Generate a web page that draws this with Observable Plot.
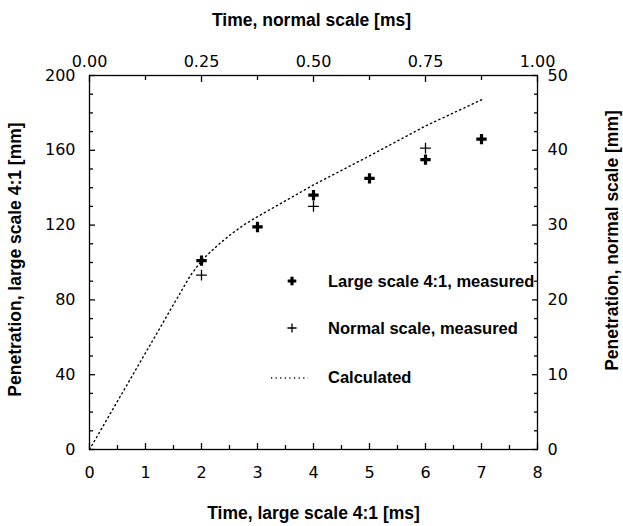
<!DOCTYPE html>
<html><head><meta charset="utf-8">
<script src="https://cdn.jsdelivr.net/npm/d3@7"></script>
<script src="https://cdn.jsdelivr.net/npm/@observablehq/plot@0.6"></script>
<style>
html,body{margin:0;padding:0;background:#fff;}
#wrap{position:relative;width:623px;height:526px;overflow:hidden;background:#fff;}
.leg{position:absolute;font-family:"Liberation Sans",Arial,sans-serif;font-weight:bold;font-size:16.5px;line-height:20px;white-space:nowrap;color:#000;}
.legsym{position:absolute;overflow:visible;}
</style></head><body><div id="wrap"></div>
<script>
// ---- data (large scale 4:1 units unless noted) ----
const largeTime = [2, 3, 4, 5, 6, 7];                 // ms, large scale
const largePen  = [101, 119, 136, 145, 155, 166];     // mm, large scale
const normalTime = [0.25, 0.5, 0.75];                 // ms, normal scale
const normalPen  = [23.3, 32.5, 40.3];                // mm, normal scale
const calcTime = [0, 1.8, 1.95, 2.1, 2.3, 2.5, 2.75, 3, 3.5, 4, 5, 6, 7];                 // ms, large scale
const calcPen  = [0, 93, 99, 104, 109.5, 114.5, 120, 124.5, 133, 141.5, 157, 173, 187];   // mm, large scale

// tick values
const largeTimeTicks = [0, 1, 2, 3, 4, 5, 6, 7, 8];
const largeTimeMinor = [0.5, 1.5, 2.5, 3.5, 4.5, 5.5, 6.5, 7.5];
const normalTimeTicks = [0, 0.25, 0.5, 0.75, 1];
const normalTimeMinor = [0.125, 0.375, 0.625, 0.875];
const largePenTicks = [0, 40, 80, 120, 160, 200];
const largePenMinor = [10, 20, 30, 50, 60, 70, 90, 100, 110, 130, 140, 150, 170, 180, 190];
const normalPenTicks = [0, 10, 20, 30, 40, 50];
const normalPenMinor = [2.5, 5, 7.5, 12.5, 15, 17.5, 22.5, 25, 27.5, 32.5, 35, 37.5, 42.5, 45, 47.5];

const legendLabels = ["Large scale 4:1, measured", "Normal scale, measured", "Calculated"];
const titles = {
  top: "Time, normal scale [ms]",
  bottom: "Time, large scale 4:1 [ms]",
  left: "Penetration, large scale 4:1 [mm]",
  right: "Penetration, normal scale [mm]"
};

// unit conversion between the two scales
const TIME_RATIO = 8;  // large-scale ms per normal-scale ms
const PEN_RATIO = 4;   // 4:1

const large = largeTime.map((t, i) => ({t, p: largePen[i]}));
const normal = normalTime.map((t, i) => ({t: t * TIME_RATIO, p: normalPen[i] * PEN_RATIO}));
const calc = calcTime.map((t, i) => ({t, p: calcPen[i]}));

const plusSymbol = {
  draw(ctx, size) {
    const h = Math.sqrt(size / Math.PI);
    ctx.moveTo(-h, 0); ctx.lineTo(h, 0);
    ctx.moveTo(0, -h); ctx.lineTo(0, h);
  }
};

const titleFont = {fontFamily: "Liberation Sans, Arial, sans-serif", fontWeight: "bold", fontSize: 17.5, fill: "black", textAnchor: "middle", lineAnchor: "middle"};
const sw = 1.3;

const chart = Plot.plot({
  width: 623, height: 526,
  marginTop: 75, marginBottom: 77, marginLeft: 89, marginRight: 86,
  style: {fontFamily: "DejaVu Sans, sans-serif", fontSize: "16px", color: "black", background: "white", overflow: "visible"},
  x: {domain: [0, 8]},
  y: {domain: [0, 200]},
  marks: [
    // inward ticks
    Plot.axisX({anchor: "bottom", ticks: largeTimeTicks, tickSize: -6, fill: "none", label: null, strokeWidth: sw}),
    Plot.axisX({anchor: "bottom", ticks: largeTimeMinor, tickSize: -4, fill: "none", label: null, strokeWidth: sw}),
    Plot.axisX({anchor: "top", ticks: normalTimeTicks.map(d => d * TIME_RATIO), tickSize: -6, fill: "none", label: null, strokeWidth: sw}),
    Plot.axisX({anchor: "top", ticks: normalTimeMinor.map(d => d * TIME_RATIO), tickSize: -4, fill: "none", label: null, strokeWidth: sw}),
    Plot.axisY({anchor: "left", ticks: largePenTicks, tickSize: -6, fill: "none", label: null, strokeWidth: sw}),
    Plot.axisY({anchor: "left", ticks: largePenMinor, tickSize: -4, fill: "none", label: null, strokeWidth: sw}),
    Plot.axisY({anchor: "right", ticks: normalPenTicks.map(d => d * PEN_RATIO), tickSize: -6, fill: "none", label: null, strokeWidth: sw}),
    Plot.axisY({anchor: "right", ticks: normalPenMinor.map(d => d * PEN_RATIO), tickSize: -4, fill: "none", label: null, strokeWidth: sw}),
    // tick labels
    Plot.axisX({anchor: "bottom", ticks: largeTimeTicks, tickSize: 0, tickPadding: 17, tickFormat: d => String(d), label: null}),
    Plot.axisX({anchor: "top", ticks: normalTimeTicks.map(d => d * TIME_RATIO), tickSize: 0, tickPadding: 9, tickFormat: d => (d / TIME_RATIO).toFixed(2), label: null}),
    Plot.axisY({anchor: "left", ticks: largePenTicks, tickSize: 0, tickPadding: 14, tickFormat: d => String(d), label: null}),
    Plot.axisY({anchor: "right", ticks: normalPenTicks.map(d => d * PEN_RATIO), tickSize: 0, tickPadding: 10, tickFormat: d => String(d / PEN_RATIO), label: null}),
    Plot.frame({stroke: "black", strokeWidth: sw}),
    // data
    Plot.line(calc, {x: "t", y: "p", stroke: "black", strokeWidth: 1.4, strokeDasharray: "1.2 3.4"}),
    Plot.dot(normal, {x: "t", y: "p", symbol: plusSymbol, r: 5.4, fill: "none", stroke: "black", strokeWidth: 1.3}),
    Plot.dot(large, {x: "t", y: "p", symbol: plusSymbol, r: 5.2, fill: "none", stroke: "black", strokeWidth: 3.2}),
    // titles
    Plot.text([titles.top], {text: d => d, frameAnchor: "top", dx: -2, dy: -55, ...titleFont}),
    Plot.text([titles.bottom], {text: d => d, frameAnchor: "bottom", dy: 64, ...titleFont}),
    Plot.text([titles.left], {text: d => d, frameAnchor: "left", rotate: -90, dx: -74, dy: -3, ...titleFont}),
    Plot.text([titles.right], {text: d => d, frameAnchor: "right", rotate: -90, dx: 75, dy: -22, ...titleFont})
  ]
});

const wrap = document.getElementById("wrap");
wrap.appendChild(chart);

// legend overlay (inside the plot area)
const legendRows = [
  {label: legendLabels[0], top: 271, sym: "bold"},
  {label: legendLabels[1], top: 318, sym: "thin"},
  {label: legendLabels[2], top: 367, sym: "dots"}
];
const ns = "http://www.w3.org/2000/svg";
legendRows.forEach(r => {
  const t = document.createElement("div");
  t.className = "leg";
  t.style.left = "328px";
  t.style.top = r.top + "px";
  t.textContent = r.label;
  wrap.appendChild(t);
  const s = document.createElementNS(ns, "svg");
  s.setAttribute("class", "legsym");
  if (r.sym === "dots") {
    s.setAttribute("width", 40); s.setAttribute("height", 10);
    s.style.left = "270px"; s.style.top = (r.top + 6) + "px";
    const l = document.createElementNS(ns, "line");
    l.setAttribute("x1", 1); l.setAttribute("x2", 38); l.setAttribute("y1", 5); l.setAttribute("y2", 5);
    l.setAttribute("stroke", "black"); l.setAttribute("stroke-width", 1.4); l.setAttribute("stroke-dasharray", "1.2 3.4");
    s.appendChild(l);
  } else {
    const h = r.sym === "bold" ? 4.3 : 4.6;
    s.setAttribute("width", 16); s.setAttribute("height", 16);
    s.style.left = "284px"; s.style.top = (r.top + 2) + "px";
    const p = document.createElementNS(ns, "path");
    p.setAttribute("d", `M${8 - h},8H${8 + h}M8,${8 - h}V${8 + h}`);
    p.setAttribute("stroke", "black"); p.setAttribute("fill", "none");
    p.setAttribute("stroke-width", r.sym === "bold" ? 3.2 : 1.3);
    s.appendChild(p);
  }
  wrap.appendChild(s);
});
</script>
</body></html>
